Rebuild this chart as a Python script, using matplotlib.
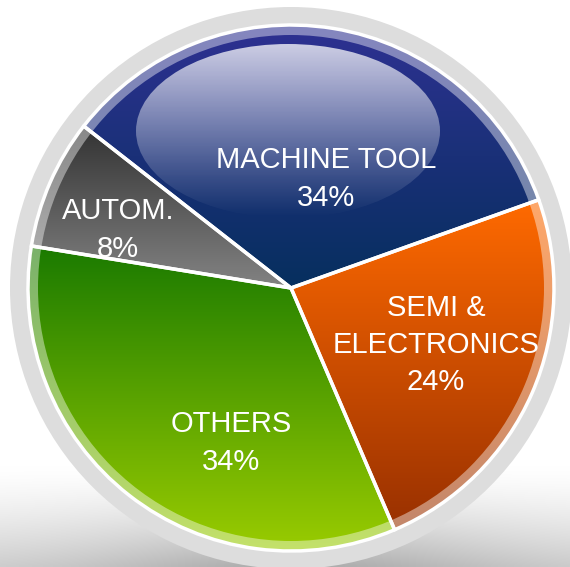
import numpy as np
import matplotlib.pyplot as plt
from matplotlib.colors import to_rgb
from matplotlib.patches import Circle, Ellipse, Wedge

plt.rcParams['font.family'] = ['Liberation Sans', 'DejaVu Sans']

labels = ['MACHINE TOOL', 'AUTOM.', 'OTHERS', 'SEMI &\nELECTRONICS']
shares = [34, 8, 34, 24]
top_colors = ['#2e3192', '#333333', '#1a7a00', '#ff6a00']
bottom_colors = ['#062f5e', '#838383', '#9acc00', '#983000']

W, H = 570, 567
cx, cy, r = 291, H - 288, 263

fig = plt.figure(figsize=(5.7, 5.67), dpi=100)
ax = fig.add_axes([0, 0, 1, 1])

# grey shadow at the bottom of the page
yy, xx = np.mgrid[0:H, 0:W]
t = np.clip((yy - 465) / 100.0, 0, 1) ** 1.4
side = 0.55 + 0.45 * np.exp(-((xx - 300) / 210.0) ** 2)
bg = 1 - 0.32 * t * side
ax.imshow(np.dstack([bg, bg, bg]), extent=(0, W, 0, H), origin='upper', zorder=0)

ax.add_patch(Circle((cx, cy), r + 18, facecolor='#dddddd', edgecolor='none', zorder=1))

wedges, _ = ax.pie(shares, startangle=19.6, counterclock=True, center=(cx, cy),
                   radius=r, wedgeprops=dict(linewidth=0))

for w, c0, c1 in zip(wedges, top_colors, bottom_colors):
    x0, y0, x1, y1 = w.get_path().get_extents().extents
    f = np.linspace(0, 1, 256)[:, None, None]
    grad = (1 - f) * np.array(to_rgb(c0)) + f * np.array(to_rgb(c1))
    grad = np.repeat(grad, 2, axis=1)
    im = ax.imshow(grad, extent=(x0, x1, y0, y1), origin='upper', zorder=2, aspect='auto')
    im.set_clip_path(w)
    w.set_facecolor('none')
    w.set_zorder(5)

# lighter rim inside the pie edge
ax.add_patch(Wedge((cx, cy), r, 0, 360, width=10, facecolor='white', alpha=0.42,
                   edgecolor='none', zorder=3))

# glossy highlight
ell = Ellipse((288, H - 131), 304, 174, facecolor='none', edgecolor='none', zorder=4)
ax.add_patch(ell)
a = np.linspace(0.78, 0.0, 256) ** 1.1
gloss = np.zeros((256, 2, 4))
gloss[..., :3] = 1.0
gloss[..., 3] = a[:, None]
g = ax.imshow(gloss, extent=(136, 440, H - 218, H - 44), origin='upper', zorder=4, aspect='auto')
g.set_clip_path(ell)

for w in wedges:
    w.set_edgecolor('white')
    w.set_linewidth(2.5)

label_pos = [(326, 179), (118, 230), (231, 443), (436, 345)]
for lab, s, (px, py) in zip(labels, shares, label_pos):
    ax.text(px, H - py, f'{lab}\n{s}%', color='white', fontsize=21, linespacing=1.43,
            ha='center', va='center', zorder=6)

ax.set_xlim(0, W)
ax.set_ylim(0, H)
ax.set_aspect('auto')
ax.axis('off')
fig.savefig('out.png', dpi=100)
